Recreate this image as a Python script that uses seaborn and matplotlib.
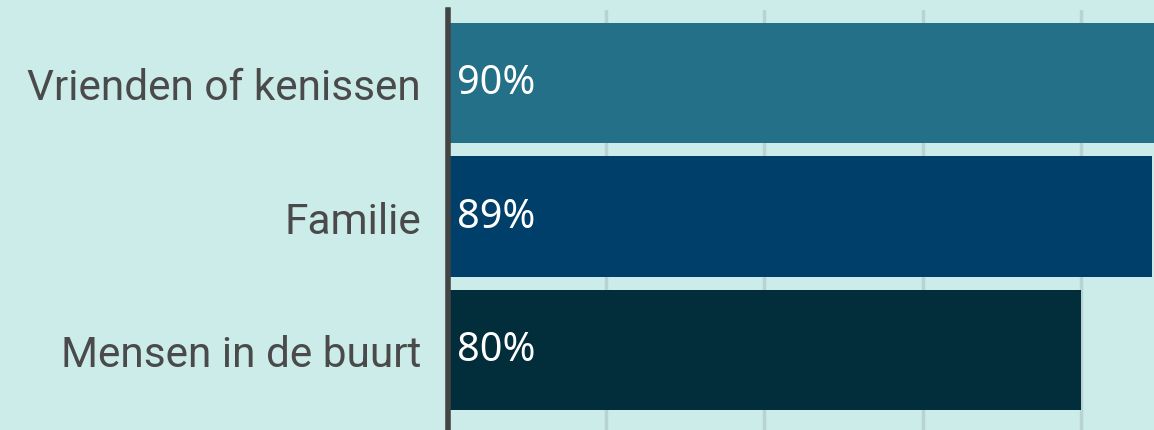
import pandas as pd
import matplotlib.pyplot as plt
import seaborn as sns

# data
categories = ["Vrienden of kenissen", "Familie", "Mensen in de buurt"]
values = [90, 89, 80]
bar_colors = ["#237088", "#013f6b", "#022d3a"]

df = pd.DataFrame({"groep": categories, "pct": values})

bg = "#cbece9"
sns.set_theme(style="white")
plt.rcParams["font.family"] = ["Roboto", "DejaVu Sans"]

fig = plt.figure(figsize=(11.54, 4.31), dpi=100, facecolor=bg)
ax = fig.add_axes([447.5 / 1154, 0, 1 - 447.5 / 1154, 420 / 431])
ax.set_facecolor(bg)

sns.barplot(data=df, y="groep", x="pct", hue="groep",
            palette=dict(zip(categories, bar_colors)),
            orient="h", width=0.9, saturation=1, legend=False,
            linewidth=0, ax=ax, zorder=2)

ax.set_xlim(0, 89.2)
ax.set_ylim(2.599, -0.547)
ax.set_xticks([20, 40, 60, 80])
ax.set_xticklabels([])
ax.xaxis.grid(True, color="#b9d3d2", linewidth=2.5, zorder=0)
ax.set_axisbelow(True)
ax.set_xlabel("")
ax.set_ylabel("")

for s in ["top", "right", "bottom"]:
    ax.spines[s].set_visible(False)
ax.spines["left"].set_color("#444444")
ax.spines["left"].set_linewidth(4)
ax.spines["left"].set_zorder(5)

ax.tick_params(axis="y", length=0, pad=19, labelsize=30.5, labelcolor="#4a4a4a")
ax.tick_params(axis="x", length=0)

# value labels inside bars
for i, v in enumerate(values):
    ax.text(1.2, i, f"{v}%", va="center", ha="left", color="white",
            fontsize=28.5, family=["Noto Sans", "DejaVu Sans"], zorder=6)

fig.savefig("out.png", dpi=100, facecolor=bg)
